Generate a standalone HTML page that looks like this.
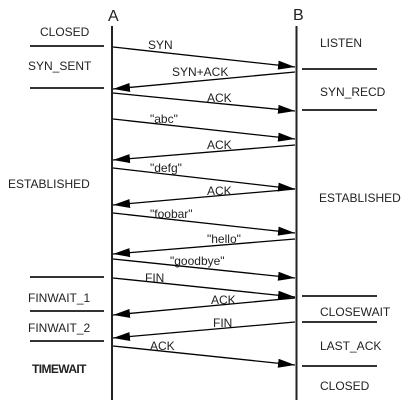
<!DOCTYPE html>
<html><head><style>body{margin:0;background:#fff}svg{display:block}text{font-family:"Liberation Sans",sans-serif;font-size:12px;fill:#222}</style></head><body>
<svg width="420" height="400" viewBox="0 0 420 400" xmlns="http://www.w3.org/2000/svg">
<defs><marker id="ah" markerWidth="17" markerHeight="9" refX="17" refY="4.5" orient="auto" markerUnits="userSpaceOnUse"><path d="M0,0 L17,4.5 L0,9 Z" fill="#000"/></marker></defs>
<rect x="111" y="26" width="2" height="374" fill="#222"/>
<rect x="295.5" y="26" width="2" height="374" fill="#222"/>
<text x="108" y="21" style="font-size:16px">A</text>
<text x="293" y="20" style="font-size:16px">B</text>
<g stroke="#333" stroke-width="2">
<line x1="30" y1="46" x2="104" y2="46"/><line x1="30" y1="88" x2="104" y2="88"/>
<line x1="30" y1="277" x2="104" y2="277"/><line x1="30" y1="311" x2="104" y2="311"/><line x1="30" y1="341" x2="104" y2="341"/>
<line x1="302" y1="69" x2="377" y2="69"/><line x1="302" y1="110" x2="377" y2="110"/>
<line x1="302" y1="296" x2="377" y2="296"/><line x1="302" y1="322" x2="377" y2="322"/><line x1="302" y1="366" x2="377" y2="366"/>
</g>
<g stroke="#000" stroke-width="1.3" marker-end="url(#ah)">
<line x1="113" y1="47" x2="295" y2="67"/>
<line x1="295" y1="72" x2="113" y2="89"/>
<line x1="113" y1="93" x2="295" y2="111"/>
<line x1="113" y1="119" x2="295" y2="139"/>
<line x1="295" y1="145" x2="113" y2="160"/>
<line x1="113" y1="168" x2="295" y2="189"/>
<line x1="295" y1="189" x2="113" y2="205"/>
<line x1="113" y1="213" x2="295" y2="233"/>
<line x1="295" y1="239" x2="113" y2="254"/>
<line x1="113" y1="259" x2="295" y2="278"/>
<line x1="113" y1="278" x2="295" y2="297"/>
<line x1="295" y1="298" x2="113" y2="315"/>
<line x1="295" y1="322" x2="113" y2="338"/>
<line x1="113" y1="346" x2="295" y2="365"/>
</g>
<text x="40" y="36">CLOSED</text>
<text x="28" y="70">SYN_SENT</text>
<text x="8" y="188">ESTABLISHED</text>
<text x="28" y="302">FINWAIT_1</text>
<text x="28" y="332">FINWAIT_2</text>
<text x="32" y="373" style="font-weight:bold;letter-spacing:-0.6px">TIMEWAIT</text>
<text x="320" y="47">LISTEN</text>
<text x="320" y="96">SYN_RECD</text>
<text x="319" y="202">ESTABLISHED</text>
<text x="320" y="316">CLOSEWAIT</text>
<text x="320" y="350">LAST_ACK</text>
<text x="320" y="390">CLOSED</text>
<text x="148" y="49">SYN</text>
<text x="172" y="76">SYN+ACK</text>
<text x="207" y="102">ACK</text>
<text x="150" y="123">"abc"</text>
<text x="207" y="149">ACK</text>
<text x="150" y="172">"defg"</text>
<text x="207" y="195">ACK</text>
<text x="150" y="218">"foobar"</text>
<text x="207" y="243">"hello"</text>
<text x="170" y="265">"goodbye"</text>
<text x="145" y="282">FIN</text>
<text x="211" y="304">ACK</text>
<text x="213" y="327">FIN</text>
<text x="150" y="350">ACK</text>
</svg>
</body></html>
